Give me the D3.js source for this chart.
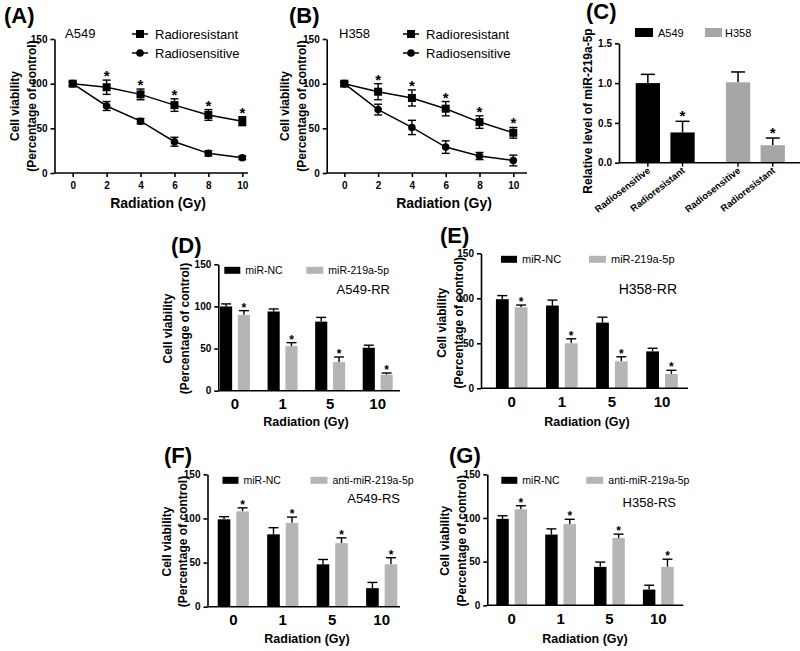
<!DOCTYPE html>
<html>
<head>
<meta charset="utf-8">
<title>Radiation panels</title>
<script src="https://d3js.org/d3.v7.min.js"></script>
<style>
  body { margin: 0; background: #fff; }
  svg { font-family: "Liberation Sans", Arial, sans-serif; }
  .axis path, .axis line { stroke: #000; stroke-width: 1.6; }
  .axis text { font-weight: bold; fill: #000; }
</style>
</head>
<body>
<svg id="fig" width="800" height="651"></svg>
<script>
// ---- data ----
var radiation = [0, 2, 4, 6, 8, 10];
var viabTicks = [0, 50, 100, 150];

var a549Resistant    = [100, 96, 88, 76, 65, 58];
var a549ResistantErr = [2, 8, 6, 7, 6, 5];
var a549Sensitive    = [100, 75, 58, 35, 22, 17];
var a549SensitiveErr = [2, 5, 3, 5, 3, 2];

var h358Resistant    = [100, 91, 84, 72, 57, 45];
var h358ResistantErr = [2, 9, 9, 8, 7, 6];
var h358Sensitive    = [100, 71, 51, 29, 19, 14];
var h358SensitiveErr = [2, 6, 8, 7, 4, 6];

var cellLines   = ["A549", "H358"];
var conditions  = ["Radiosensitive", "Radioresistant"];
var mirA549     = [1.00, 0.38];
var mirA549Err  = [0.11, 0.14];
var mirH358     = [1.01, 0.22];
var mirH358Err  = [0.13, 0.09];
var mirTicks    = [0, 0.5, 1.0, 1.5];

var doses = ["0", "1", "5", "10"];
var dNC  = [100, 94, 82, 51],  dNCErr  = [3, 3, 5, 3];
var dMir = [90, 53, 34, 19],   dMirErr = [5, 4, 6, 2];
var eNC  = [99, 92, 73, 41],   eNCErr  = [4, 6, 6, 3.5];
var eMir = [90, 50, 30, 16],   eMirErr = [2.5, 5, 5, 4];
var fNC  = [99, 82, 48, 21],   fNCErr  = [3, 7.5, 5.5, 6.5];
var fAnti = [108, 95, 72, 48], fAntiErr = [4, 6.5, 6, 7.5];
var gNC  = [99, 81, 44, 18],   gNCErr  = [3.5, 6.5, 5.5, 5];
var gAnti = [110, 93, 77, 44], gAntiErr = [4, 5.5, 4.5, 8.8];

var GREY = "#b5b5b5";
var svg = d3.select("#fig");

function label(t, x, y, size, weight, anchor) {
  return svg.append("text").attr("x", x).attr("y", y)
    .attr("font-size", size).attr("font-weight", weight || "normal")
    .attr("text-anchor", anchor || "start").text(t);
}

function yTitle(lines, xs, cy, size) {
  lines.forEach(function (t, i) {
    svg.append("text")
      .attr("transform", "translate(" + xs[i] + "," + cy + ") rotate(-90)")
      .attr("text-anchor", "middle").attr("dominant-baseline", "central")
      .attr("font-size", size).attr("font-weight", "bold").text(t);
  });
}

// ---- line panels (A, B) ----
function linePanel(c) {
  var x = d3.scaleLinear().domain([0, 10]).range([c.x0, c.x10]);
  var y = d3.scaleLinear().domain([0, 150]).range([c.yb, c.yt]);
  var g = svg.append("g");

  g.append("g").attr("class", "axis").attr("transform", "translate(" + c.ax + ",0)")
    .call(d3.axisLeft(y).tickValues(viabTicks).tickSize(4).tickSizeOuter(0))
    .selectAll("text").attr("font-size", 10);
  var xa = g.append("g").attr("class", "axis").attr("transform", "translate(0," + c.yb + ")")
    .call(d3.axisBottom(x).tickValues(radiation).tickSize(4));
  xa.select(".domain").remove();
  xa.append("line").attr("x1", c.ax).attr("x2", c.xr).attr("stroke", "#000").attr("stroke-width", 1.6);
  xa.selectAll("text").attr("font-size", 10).attr("dy", "0.9em");

  var line = d3.line().x(function (d, i) { return x(radiation[i]); }).y(function (d) { return y(d); });

  [[c.sens, c.sensErr, "circle"], [c.res, c.resErr, "square"]].forEach(function (s) {
    var vals = s[0], errs = s[1];
    g.append("path").attr("d", line(vals)).attr("fill", "none").attr("stroke", "#000").attr("stroke-width", 1.5);
    vals.forEach(function (v, i) {
      var px = x(radiation[i]);
      g.append("line").attr("x1", px).attr("x2", px).attr("y1", y(v - errs[i])).attr("y2", y(v + errs[i]))
        .attr("stroke", "#000").attr("stroke-width", 1.4);
      [v - errs[i], v + errs[i]].forEach(function (e) {
        g.append("line").attr("x1", px - 4).attr("x2", px + 4).attr("y1", y(e)).attr("y2", y(e))
          .attr("stroke", "#000").attr("stroke-width", 1.4);
      });
      if (s[2] === "square") {
        g.append("rect").attr("x", px - 4).attr("y", y(v) - 4).attr("width", 8).attr("height", 8);
        if (i > 0) g.append("text").attr("x", px).attr("y", y(v + errs[i]) + 1)
          .attr("text-anchor", "middle").attr("font-size", 15).attr("font-weight", "bold").text("*");
      } else {
        g.append("circle").attr("cx", px).attr("cy", y(v)).attr("r", 3.8);
      }
    });
  });

  // legend
  [["Radioresistant", "square", 34], ["Radiosensitive", "circle", 53]].forEach(function (l) {
    g.append("line").attr("x1", c.lx - 8).attr("x2", c.lx + 8).attr("y1", l[2]).attr("y2", l[2])
      .attr("stroke", "#000").attr("stroke-width", 1.5);
    if (l[1] === "square") g.append("rect").attr("x", c.lx - 4).attr("y", l[2] - 4).attr("width", 8).attr("height", 8);
    else g.append("circle").attr("cx", c.lx).attr("cy", l[2]).attr("r", 3.8);
    label(l[0], c.lx + 15, l[2] + 4.5, 13);
  });
  label(c.cell, c.cellX, 38, 13);
  label(c.panel, c.panelX, 23, 22, "bold");
  yTitle(["Cell viability", "(Percentage of control)"], c.titleX, 106, 12);
  label("Radiation (Gy)", c.xTitleX, 208, 14, "bold", "middle");
}

linePanel({ ax: 54.5, x0: 72.7, x10: 242.3, xr: 248, yb: 173, yt: 39,
  res: a549Resistant, resErr: a549ResistantErr, sens: a549Sensitive, sensErr: a549SensitiveErr,
  lx: 140, cell: "A549", cellX: 65, panel: "(A)", panelX: 4, titleX: [15, 31.5], xTitleX: 158 });
linePanel({ ax: 326.7, x0: 344.3, x10: 513.3, xr: 527, yb: 173, yt: 39,
  res: h358Resistant, resErr: h358ResistantErr, sens: h358Sensitive, sensErr: h358SensitiveErr,
  lx: 411, cell: "H358", cellX: 339, panel: "(B)", panelX: 289, titleX: [285, 301.5], xTitleX: 444 });

// ---- panel C ----
(function () {
  var y = d3.scaleLinear().domain([0, 1.5]).range([162.7, 43.3]);
  var outer = d3.scaleBand().domain(cellLines).range([620.1, 800.5]);
  var inner = d3.scaleBand().domain(conditions).range([0, outer.bandwidth()]).paddingInner(0.3).paddingOuter(0.45);
  var g = svg.append("g");
  var colors = { A549: "#000", H358: "#a6a6a6" };
  var vals = { A549: [mirA549, mirA549Err], H358: [mirH358, mirH358Err] };

  cellLines.forEach(function (cl) {
    conditions.forEach(function (cd, j) {
      var v = vals[cl][0][j], e = vals[cl][1][j];
      var bx = outer(cl) + inner(cd), bw = inner.bandwidth(), cx = bx + bw / 2;
      g.append("line").attr("x1", cx).attr("x2", cx).attr("y1", y(v)).attr("y2", y(v + e)).attr("stroke", "#000").attr("stroke-width", 1.5);
      g.append("line").attr("x1", cx - 7).attr("x2", cx + 7).attr("y1", y(v + e)).attr("y2", y(v + e)).attr("stroke", "#000").attr("stroke-width", 1.5);
      g.append("rect").attr("x", bx).attr("y", y(v)).attr("width", bw).attr("height", y(0) - y(v)).attr("fill", colors[cl]);
      if (j === 1) g.append("text").attr("x", cx).attr("y", y(v + e)).attr("text-anchor", "middle")
        .attr("font-size", 15).attr("font-weight", "bold").text("*");
      g.append("line").attr("x1", cx).attr("x2", cx).attr("y1", y(0)).attr("y2", y(0) + 4).attr("stroke", "#000").attr("stroke-width", 1.4);
      g.append("text").attr("transform", "translate(" + (cx + 3) + "," + (y(0) + 9) + ") rotate(-38)")
        .attr("text-anchor", "end").attr("font-size", 9.5).attr("font-weight", "bold").text(cd);
    });
  });
  g.append("g").attr("class", "axis").attr("transform", "translate(619,0)")
    .call(d3.axisLeft(y).tickValues(mirTicks).tickFormat(d3.format(".1f")).tickSize(4).tickSizeOuter(0))
    .selectAll("text").attr("font-size", 10);
  g.append("line").attr("x1", 619).attr("x2", 800).attr("y1", y(0)).attr("y2", y(0)).attr("stroke", "#000").attr("stroke-width", 1.6);

  g.append("rect").attr("x", 635).attr("y", 28).attr("width", 18).attr("height", 9).attr("fill", "#000");
  label("A549", 658, 37, 11);
  g.append("rect").attr("x", 705).attr("y", 28).attr("width", 17).attr("height", 9).attr("fill", "#a6a6a6");
  label("H358", 725, 37, 11);
  label("(C)", 586, 19, 22, "bold");
  yTitle(["Relative level of miR-219a-5p"], [588], 111, 12);
})();

// ---- bar panels (D-G) ----
function barPanel(c) {
  var step = (c.c3 - c.c0) / 3;
  var x = d3.scaleBand().domain(doses).range([c.c0 - step / 2, c.c3 + step / 2]);
  var y = d3.scaleLinear().domain([0, 150]).range([c.yb, c.yt]);
  var g = svg.append("g");
  var bw = step * 0.255, gap = step * 0.12;

  [[c.nc, c.ncErr, "#000", -1], [c.tr, c.trErr, GREY, 1]].forEach(function (s) {
    s[0].forEach(function (v, i) {
      var cx = x(doses[i]) + x.bandwidth() / 2;
      var bx = s[3] < 0 ? cx - gap / 2 - bw : cx + gap / 2;
      var mx = bx + bw / 2, top = y(v + s[1][i]);
      g.append("line").attr("x1", mx).attr("x2", mx).attr("y1", y(v)).attr("y2", top).attr("stroke", "#000").attr("stroke-width", 1.4);
      g.append("line").attr("x1", mx - 5).attr("x2", mx + 5).attr("y1", top).attr("y2", top).attr("stroke", "#000").attr("stroke-width", 1.4);
      g.append("rect").attr("x", bx).attr("y", y(v)).attr("width", bw).attr("height", y(0) - y(v)).attr("fill", s[2]);
      if (s[3] > 0) g.append("text").attr("x", mx).attr("y", top + 1).attr("text-anchor", "middle")
        .attr("font-size", 12).attr("font-weight", "bold").text("*");
    });
  });

  g.append("g").attr("class", "axis").attr("transform", "translate(" + c.ax + ",0)")
    .call(d3.axisLeft(y).tickValues(viabTicks).tickSize(4).tickSizeOuter(0))
    .selectAll("text").attr("font-size", 10);
  var xa = g.append("g").attr("class", "axis").attr("transform", "translate(0," + c.yb + ")")
    .call(d3.axisBottom(x).tickSize(0));
  xa.select(".domain").remove();
  xa.append("line").attr("x1", c.ax).attr("x2", c.xr).attr("stroke", "#000").attr("stroke-width", 1.6);
  xa.selectAll("text").attr("font-size", 15).attr("dy", "1.05em");

  var ly = y(150) + 2.5;
  g.append("rect").attr("x", c.ax + c.l1).attr("y", ly).attr("width", 16).attr("height", 7).attr("fill", "#000");
  label("miR-NC", c.ax + c.l1 + 21, ly + 7.5, c.lfs);
  g.append("rect").attr("x", c.ax + c.l2).attr("y", ly).attr("width", 17).attr("height", 7).attr("fill", GREY);
  label(c.trName, c.ax + c.l2 + 22, ly + 7.5, c.lfs);
  label(c.cell, c.cellX, c.cellY, c.cfs, "normal", "end");
  label(c.panel, c.panelX, c.panelY, 22, "bold");
  yTitle(["Cell viability", "(Percentage of control)"], c.titleX, (c.yb + c.yt) / 2 + c.tdy, 12);
  label("Radiation (Gy)", c.xTitleX, c.xTitleY, 12.5, "bold", "middle");
}

barPanel({ ax: 218.3, xr: 400, c0: 235, c3: 377.7, yb: 390.7, yt: 264.3,
  nc: dNC, ncErr: dNCErr, tr: dMir, trErr: dMirErr, trName: "miR-219a-5p",
  l1: 6, l2: 88, lfs: 10.5, cell: "A549-RR", cellX: 390, cellY: 293.5, cfs: 13,
  panel: "(D)", panelX: 171, panelY: 253, titleX: [168, 184.5], tdy: 1, xTitleX: 306, xTitleY: 426 });
barPanel({ ax: 481, xr: 688, c0: 511.7, c3: 662, yb: 388.3, yt: 253.3,
  nc: eNC, ncErr: eNCErr, tr: eMir, trErr: eMirErr, trName: "miR-219a-5p",
  l1: 20, l2: 108, lfs: 11, cell: "H358-RR", cellX: 677, cellY: 294, cfs: 14,
  panel: "(E)", panelX: 440, panelY: 243, titleX: [442, 458.5], tdy: 2, xTitleX: 587, xTitleY: 426 });
barPanel({ ax: 207.5, xr: 400, c0: 233.3, c3: 381.7, yb: 606.7, yt: 474.3,
  nc: fNC, ncErr: fNCErr, tr: fAnti, trErr: fAntiErr, trName: "anti-miR-219a-5p",
  l1: 15, l2: 103, lfs: 10.5, cell: "A549-RS", cellX: 400, cellY: 503, cfs: 13,
  panel: "(F)", panelX: 164, panelY: 463, titleX: [167, 182.5], tdy: 1, xTitleX: 307, xTitleY: 643 });
barPanel({ ax: 487.3, xr: 683.3, c0: 511.7, c3: 658.3, yb: 605.3, yt: 474.3,
  nc: gNC, ncErr: gNCErr, tr: gAnti, trErr: gAntiErr, trName: "anti-miR-219a-5p",
  l1: 14, l2: 99, lfs: 10.5, cell: "H358-RS", cellX: 676, cellY: 506.5, cfs: 13,
  panel: "(G)", panelX: 449, panelY: 463, titleX: [445, 461.5], tdy: 1, xTitleX: 585, xTitleY: 643 });
</script>
</body>
</html>
